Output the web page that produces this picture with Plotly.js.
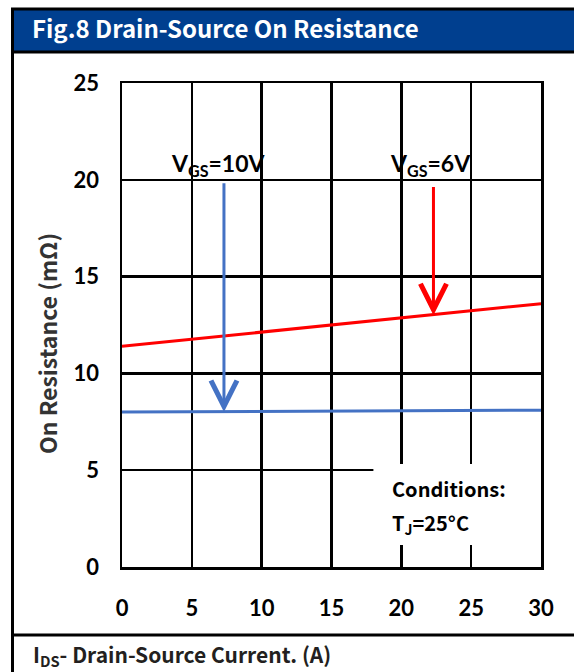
<!DOCTYPE html>
<html>
<head>
<meta charset="utf-8">
<script src="https://cdn.plot.ly/plotly-3.0.1.min.js"></script>
<style>html,body{margin:0;padding:0;background:#fff;}#chart{width:574px;height:672px;}</style>
</head>
<body>
<div id="chart"></div>
<script>
// ---- data ----
const currentA = [0, 30];                 // I_DS (A)
const rdsVgs10 = [8.0, 8.1];              // On resistance, VGS=10V (mΩ)
const rdsVgs6 = [11.4, 13.6];             // On resistance, VGS=6V (mΩ)
const seriesNames = ['V<sub>GS</sub>=10V', 'V<sub>GS</sub>=6V'];
const seriesColors = ['#4472C4', '#FF0000'];
const labelX = [6.9, 22.1];
const labelY = [20.8, 20.8];
const arrowX = [7.3, 22.3];
const arrowHeadY = [8.0, 13.0];
const arrowTailY = [19.9, 19.7];
const xTicks = [0, 5, 10, 15, 20, 25, 30];
const yTicks = [0, 5, 10, 15, 20, 25];

// helpers: pixel -> paper coords (plot area 122..541 x, 83..567 y)
const L = 122, R = 541, T = 83, B = 567;
const px = v => (v - L) / (R - L);
const py = v => (B - v) / (B - T);

const traces = [
  {x: currentA, y: rdsVgs10, mode: 'lines', line: {color: seriesColors[0], width: 3}, name: seriesNames[0], hoverinfo: 'skip'},
  {x: currentA, y: rdsVgs6, mode: 'lines', line: {color: seriesColors[1], width: 3}, name: seriesNames[1], hoverinfo: 'skip'}
];

const tickFont = {family: 'Lato, sans-serif', size: 22, weight: 'bold', color: '#000'};
const cjk = '"Noto Sans CJK SC", "Noto Sans", sans-serif';

const annotations = [];
for (let i = 0; i < 2; i++) {
  annotations.push({
    xref: 'x', yref: 'y', x: labelX[i], y: labelY[i], text: '<b>' + seriesNames[i] + '</b>',
    showarrow: false, font: {family: 'Lato, sans-serif', size: 23, color: '#000'}, xanchor: 'center', yanchor: 'middle'
  });
  annotations.push({
    xref: 'x', yref: 'y', axref: 'x', ayref: 'y', x: arrowX[i], y: arrowHeadY[i], ax: arrowX[i], ay: arrowTailY[i],
    text: '', showarrow: true, arrowhead: 5, arrowsize: 1.7, arrowwidth: 3, arrowcolor: seriesColors[i], standoff: 0
  });
}
annotations.push({
  xref: 'x', yref: 'y', x: 19.2, y: 4.03, xanchor: 'left', yanchor: 'middle', showarrow: false,
  text: '<b>Conditions:</b>', font: {family: cjk, size: 20, color: '#000'}
});
annotations.push({
  xref: 'x', yref: 'y', x: 19.2, y: 2.27, xanchor: 'left', yanchor: 'middle', showarrow: false,
  text: '<b>T<sub>J</sub>=25°C</b>', font: {family: cjk, size: 20, color: '#000'}
});
annotations.push({
  xref: 'paper', yref: 'paper', x: px(47), y: py(344), textangle: -90, showarrow: false,
  xanchor: 'center', yanchor: 'middle',
  text: '<b>On Resistance (mΩ)</b>', font: {family: cjk, size: 23, color: '#333333'}
});
annotations.push({
  xref: 'paper', yref: 'paper', x: px(31), y: py(655), xanchor: 'left', yanchor: 'middle', showarrow: false,
  text: '<b>I<sub>DS</sub>- Drain-Source Current. (A)</b>', font: {family: cjk, size: 21, color: '#231F20'}
});

const shapes = [
  // title bar
  {type: 'rect', xref: 'paper', yref: 'paper', x0: px(12.5), x1: px(580), y0: py(52), y1: py(9),
   fillcolor: '#003F8F', line: {color: '#000', width: 3}, layer: 'above'},
  // left frame line
  {type: 'line', xref: 'paper', yref: 'paper', x0: px(12.5), x1: px(12.5), y0: py(52), y1: py(690),
   line: {color: '#000', width: 3}},
  // bottom separator
  {type: 'line', xref: 'paper', yref: 'paper', x0: px(12.5), x1: px(580), y0: py(635), y1: py(635),
   line: {color: '#000', width: 3}},
  // conditions box
  {type: 'rect', xref: 'x', yref: 'y', x0: 18, x1: 30, y0: 1.14, y1: 5.32,
   fillcolor: '#fff', line: {width: 0}, layer: 'between'}
];

const axisCommon = {
  showgrid: true, gridcolor: '#000', gridwidth: 2.5,
  showline: true, linecolor: '#000', linewidth: 2.5, mirror: true,
  zeroline: false, ticks: '', tickfont: tickFont, fixedrange: true
};

const layout = {
  width: 574, height: 672,
  margin: {l: L, r: 574 - R, t: T, b: 672 - B, pad: 0},
  paper_bgcolor: '#fff', plot_bgcolor: '#fff',
  showlegend: false,
  title: {
    text: '<b>Fig.8 Drain-Source On Resistance</b>',
    font: {family: cjk, size: 24, color: '#fff'},
    xref: 'container', yref: 'container', x: 32 / 574, xanchor: 'left', y: 1 - 30 / 672, yanchor: 'middle'
  },
  xaxis: Object.assign({}, axisCommon, {range: [0, 30], tickvals: xTicks, ticktext: xTicks.map(String), ticklabelstandoff: 20}),
  yaxis: Object.assign({}, axisCommon, {range: [0, 25], tickvals: yTicks, ticktext: yTicks.map(String), ticklabelstandoff: 16}),
  annotations: annotations,
  shapes: shapes
};

Plotly.newPlot('chart', traces, layout, {displayModeBar: false, staticPlot: true});
</script>
</body>
</html>
